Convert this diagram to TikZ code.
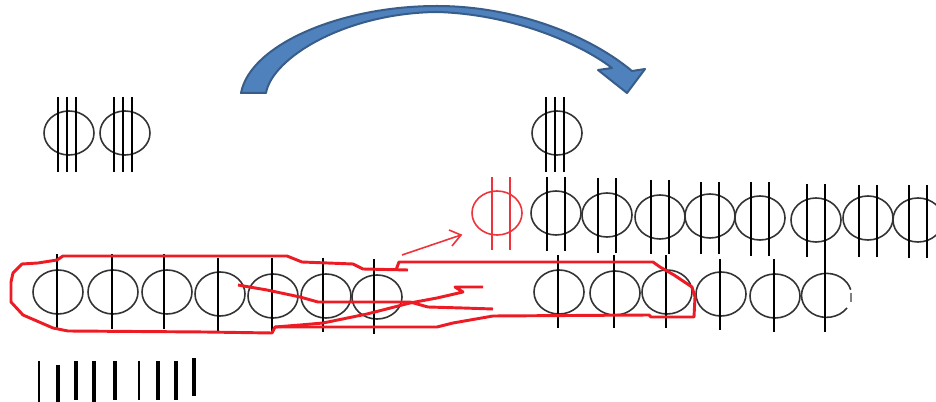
\documentclass[tikz,border=0pt]{standalone}
\usepackage{tikz}
\usetikzlibrary{shapes.geometric}
\definecolor{arrowfill}{RGB}{79,129,189}
\definecolor{arrowline}{RGB}{56,93,138}
\definecolor{inkred}{RGB}{237,28,36}
\tikzset{
  coin/.style={draw=black!80,ellipse,inner sep=0pt,minimum width=37.5pt,minimum height=33pt,line width=1.2pt},
  bar/.style={black,line width=1.2pt},
  redcoin/.style={coin,draw=inkred!90},
  redbar/.style={inkred!90,line width=1.2pt},
  stroke/.style={inkred,line width=2.2pt,line join=round},
}
\begin{document}
\begin{tikzpicture}[x=0.75pt,y=0.75pt,yscale=-1,xscale=1]
\useasboundingbox (0,0) rectangle (936,402);

%Curved arrow
\draw [arrowline,fill=arrowfill,line width=1.5pt,line join=round] (241,93) .. controls (250,45) and (340,6) .. (437,6) .. controls (510,6) and (585,32) .. (632,71) -- (645,69) -- (627,93) -- (598,70) -- (612,68) .. controls (578,42) and (510,14) .. (437,12) .. controls (345,13) and (272,58) .. (266,93) -- cycle;

%Top coins
\foreach \name/\cx/\cy in {topa/69/133,topb/125/133,topc/557/133}{
  \node [coin] (\name) at (\cx,\cy) {};
  \foreach \dx in {-11,-2,7}
    \draw [bar] (\cx+\dx,97) -- (\cx+\dx,172);
}

%Middle row
\node [redcoin] (redmid) at (497,213) {};
\draw [redbar] (492,177) -- (492,250);
\draw [redbar] (510,177) -- (510,250);
\foreach \name/\cx/\cy/\ytop/\ybot in {mida/556/213/177/251,midb/607/215/178/253,midc/660/217/180/254,midd/710/216/182/254,mide/760/218/182/256,midf/816/220/184/257,midg/868/218/185/257,midh/918/220/185/258}{
  \node [coin] (\name) at (\cx,\cy) {};
  \draw [bar] (\cx-9,\ytop) -- (\cx-9,\ybot);
  \draw [bar] (\cx+9,\ytop) -- (\cx+9,\ybot);
}

%Left row
\foreach \name/\cx/\cy/\lx/\ytop/\ybot in {lefta/58/292/57/254/329,leftb/113/292/112/254/329,leftc/167/292/164/254/329,leftd/220/294/218/258/331,lefte/273/296/272/258/331,leftf/326/296/323/258/332,leftg/377/297/374/259/334}{
  \node [coin] (\name) at (\cx,\cy) {};
  \draw [bar] (\lx,\ytop) -- (\lx,\ybot);
}

%Right row
\foreach \name/\cx/\cy/\ytop/\ybot in {righta/559/292/255/328,rightb/615/293/255/328,rightc/667/292/255/328,rightd/721/294/259/330,righte/775/296/259/332}{
  \node [coin] (\name) at (\cx,\cy) {};
  \draw [bar] (\cx-1,\ytop) -- (\cx-1,\ybot);
}
\draw [black!80,line width=1.2pt] (847,308) arc [start angle=35,end angle=345,x radius=25,y radius=22];
\draw [bar] (825,257) -- (825,332);
\draw [black!50,line width=1.2pt] (851,293) -- (851,302);

%Bars at the bottom
\foreach \lx/\ytop/\ybot/\wd in {39/361/402/1,58/365/402/2.6,76/361/400/2.6,94/361/402/2.6,115/361/400/2.6,139/361/400/1.4,158/361/400/2.6,176/361/400/2.6,194/358/396/2.6}
  \draw [black,line width=\wd pt] (\lx,\ytop) -- (\lx,\ybot);

%Red outlines
\draw [stroke] (408,270) -- (363,269) -- (353,264) -- (302,262) -- (287,256) -- (63,256) -- (57,260) -- (38,263) -- (22,264) -- (13,273) -- (11,282) -- (11,302) -- (23,315) -- (53,328) -- (68,331) -- (205,332) -- (272,333) -- (275,327) -- (300,325) -- (323,323) -- (367,314) -- (410,303) -- (437,298) -- (463,292) -- (455,287) -- (483,287);
\draw [stroke] (238,285) -- (267,290) -- (300,297) -- (318,302) -- (410,302) -- (428,307) -- (463,308) -- (493,309);
\draw [stroke] (275,327) -- (437,327) -- (453,323) -- (493,316) -- (649,315) -- (651,317) -- (694,317) -- (695,297) -- (692,287) -- (674,275) -- (660,267) -- (653,262) -- (399,262) -- (396,270);

%Thin red arrow
\draw [redbar] (402,255) -- (461,235);
\draw [redbar] (449,230) -- (461,235) -- (452,246);
\end{tikzpicture}
\end{document}
